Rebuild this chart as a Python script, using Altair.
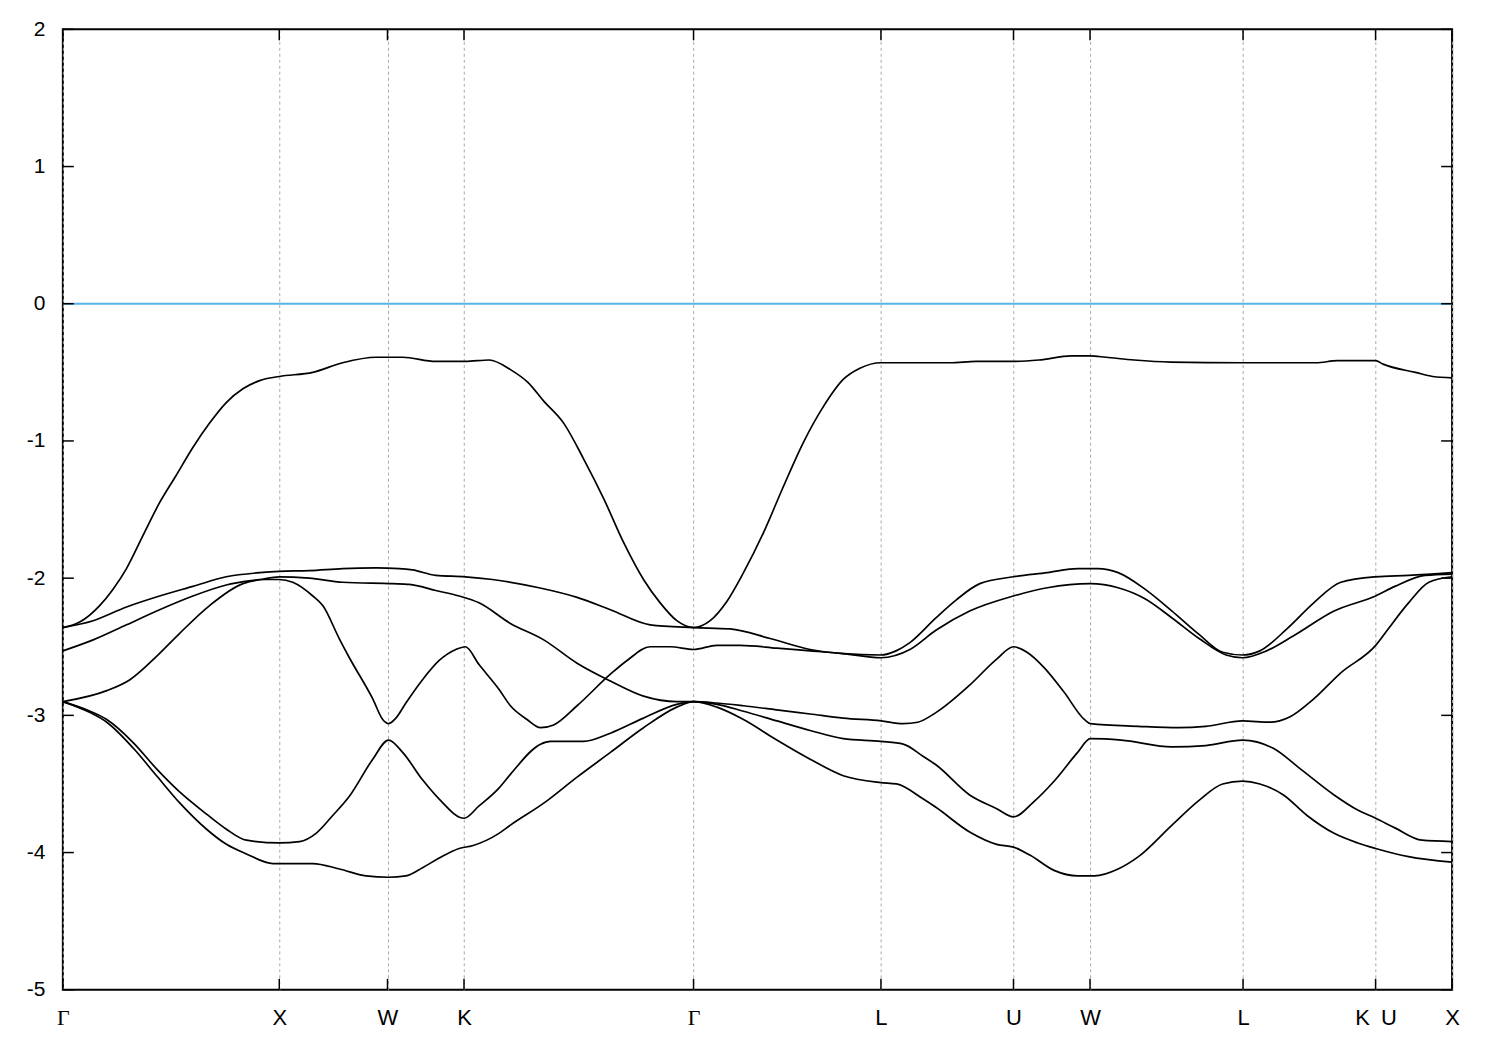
import json
import altair as alt
import pandas as pd

# high-symmetry points along the k-path
kpath_pos = [0, 1.0, 1.5, 1.8536, 2.9142, 3.7802, 4.3926, 4.7462, 5.4533, 6.0657, 6.4193]
kpath_lab = ["Γ", "X", "W", "K", "Γ", "L", "U", "W", "L", "K\u2002U", "X"]
ytick_vals = [-5, -4, -3, -2, -1, 0, 1, 2]
fermi_level = [0]

band1_k = [0, .078, .17, .232, .294, .37, .447, .524, .60, .678, .755, .832, .909, 1.0, 1.155, 1.293,
           1.447, 1.57, 1.723, 1.86, 1.97, 2.068, 2.15, 2.222, 2.314, 2.406, 2.499, 2.591, 2.683, 2.76,
           2.837, 2.914, 2.991, 3.068, 3.145, 3.237, 3.33, 3.422, 3.514, 3.607, 3.683, 3.78, 3.95, 4.10,
           4.22, 4.3926, 4.51, 4.66, 4.746, 4.82, 4.95, 5.12, 5.453, 5.79, 5.89, 6.066, 6.10, 6.25, 6.33, 6.419]
band1_e = [-2.36, -2.32, -2.20, -2.08, -1.93, -1.69, -1.45, -1.25, -1.05, -0.87, -0.72, -0.62, -0.56, -0.53,
           -0.50, -0.43, -0.39, -0.39, -0.42, -0.42, -0.41, -0.48, -0.575, -0.71, -0.87, -1.13, -1.42, -1.74,
           -2.01, -2.18, -2.31, -2.36, -2.31, -2.17, -1.96, -1.67, -1.33, -1.01, -0.75, -0.55, -0.47, -0.43,
           -0.43, -0.43, -0.42, -0.42, -0.41, -0.38, -0.38, -0.39, -0.41, -0.425, -0.43, -0.43, -0.415, -0.415,
           -0.44, -0.50, -0.53, -0.54]

band2_k = [0, 0.14, 0.294, 0.447, 0.601, 0.755, 0.909, 1.0, 1.139, 1.293, 1.447, 1.554, 1.616, 1.723, 1.86,
           1.985, 2.2, 2.376, 2.53, 2.714, 2.914, 3.083, 3.268, 3.453, 3.606, 3.78, 3.85, 3.914, 4.034, 4.127,
           4.237, 4.3926, 4.549, 4.689, 4.782, 4.876, 5.0, 5.125, 5.25, 5.359, 5.451, 5.531, 5.656, 5.78,
           5.905, 6.066, 6.218, 6.419]
band2_e = [-2.36, -2.31, -2.21, -2.13, -2.06, -1.99, -1.96, -1.95, -1.945, -1.93, -1.925, -1.93, -1.94, -1.98,
           -1.99, -2.01, -2.07, -2.14, -2.23, -2.34, -2.36, -2.37, -2.44, -2.52, -2.55, -2.56, -2.53, -2.47,
           -2.29, -2.16, -2.04, -1.99, -1.96, -1.93, -1.93, -1.96, -2.08, -2.24, -2.41, -2.54, -2.56, -2.53,
           -2.37, -2.18, -2.03, -1.99, -1.98, -1.96]

band3_k = [0, 0.14, 0.294, 0.447, 0.601, 0.755, 0.909, 1.0, 1.139, 1.293, 1.524, 1.601, 1.723, 1.831, 1.923,
           2.068, 2.222, 2.376, 2.53, 2.683, 2.837, 2.914, 3.022, 3.145, 3.299, 3.453, 3.606, 3.78, 3.883,
           3.95, 4.034, 4.19, 4.315, 4.3926, 4.455, 4.533, 4.626, 4.72, 4.748, 4.97, 5.157, 5.281, 5.451,
           5.578, 5.671, 5.78, 5.905, 6.066, 6.124, 6.218, 6.312, 6.419]
band3_e = [-2.53, -2.45, -2.34, -2.23, -2.13, -2.05, -2.01, -1.99, -2.00, -2.03, -2.04, -2.045, -2.09, -2.13,
           -2.18, -2.33, -2.45, -2.62, -2.75, -2.86, -2.90, -2.90, -2.91, -2.93, -2.96, -2.99, -3.02, -3.04,
           -3.06, -3.05, -2.98, -2.78, -2.59, -2.50, -2.54, -2.65, -2.83, -3.03, -3.06, -3.08, -3.09, -3.08,
           -3.04, -3.05, -3.01, -2.88, -2.69, -2.49, -2.37, -2.18, -2.03, -1.99]

band4_k = [0, 0.203, 0.31, 0.433, 0.541, 0.678, 0.832, 0.939, 1.0, 1.062, 1.155, 1.201, 1.277, 1.324, 1.432,
           1.478, 1.505, 1.539, 1.585, 1.662, 1.739, 1.816, 1.86, 1.923, 2.015, 2.068, 2.145, 2.207, 2.268,
           2.376, 2.53, 2.607, 2.714, 2.806, 2.914, 3.022, 3.13, 3.299, 3.453, 3.606, 3.78, 3.914, 4.034,
           4.19, 4.3926, 4.549, 4.748, 4.876, 5.0, 5.125, 5.25, 5.375, 5.451, 5.562, 5.687, 5.874, 6.066,
           6.155, 6.295, 6.419]
band4_e = [-2.90, -2.82, -2.74, -2.57, -2.40, -2.20, -2.04, -2.01, -2.01, -2.03, -2.13, -2.20, -2.44, -2.58,
           -2.88, -3.03, -3.06, -3.02, -2.91, -2.74, -2.60, -2.52, -2.50, -2.63, -2.81, -2.93, -3.03, -3.09,
           -3.07, -2.93, -2.70, -2.60, -2.50, -2.50, -2.52, -2.49, -2.49, -2.51, -2.53, -2.55, -2.58, -2.52,
           -2.38, -2.24, -2.13, -2.07, -2.04, -2.07, -2.15, -2.29, -2.44, -2.56, -2.58, -2.53, -2.42, -2.24,
           -2.13, -2.06, -1.98, -1.97]

band5_k = [0, 0.126, 0.203, 0.326, 0.433, 0.541, 0.664, 0.756, 0.848, 1.0, 1.094, 1.17, 1.247, 1.324, 1.432,
           1.505, 1.57, 1.662, 1.739, 1.854, 1.923, 2.015, 2.068, 2.207, 2.253, 2.406, 2.53, 2.683, 2.837,
           2.914, 3.022, 3.145, 3.299, 3.453, 3.606, 3.78, 3.883, 3.976, 4.034, 4.19, 4.315, 4.3926, 4.486,
           4.58, 4.689, 4.748, 4.891, 5.125, 5.281, 5.451, 5.593, 5.718, 5.874, 5.983, 6.066, 6.155, 6.28,
           6.419]
band5_e = [-2.90, -2.97, -3.03, -3.20, -3.39, -3.56, -3.72, -3.83, -3.91, -3.93, -3.92, -3.86, -3.73, -3.59,
           -3.32, -3.18, -3.27, -3.47, -3.61, -3.75, -3.66, -3.53, -3.43, -3.21, -3.19, -3.19, -3.13, -3.02,
           -2.92, -2.90, -2.92, -2.97, -3.04, -3.11, -3.17, -3.19, -3.21, -3.30, -3.36, -3.58, -3.68, -3.74,
           -3.63, -3.48, -3.27, -3.17, -3.18, -3.23, -3.22, -3.18, -3.24, -3.39, -3.58, -3.69, -3.75, -3.82,
           -3.91, -3.92]

band6_k = [0, 0.126, 0.203, 0.326, 0.433, 0.541, 0.664, 0.756, 0.848, 0.971, 1.0, 1.155, 1.278, 1.401, 1.505,
           1.585, 1.662, 1.739, 1.831, 1.892, 2.015, 2.068, 2.222, 2.376, 2.53, 2.683, 2.837, 2.914, 3.022,
           3.145, 3.299, 3.453, 3.606, 3.78, 3.852, 3.976, 4.034, 4.19, 4.315, 4.3926, 4.47, 4.58, 4.689,
           4.767, 4.876, 4.97, 5.125, 5.25, 5.359, 5.451, 5.531, 5.64, 5.749, 5.874, 5.983, 6.066, 6.218,
           6.419]
band6_e = [-2.90, -2.98, -3.05, -3.24, -3.44, -3.64, -3.83, -3.94, -4.01, -4.08, -4.08, -4.08, -4.12, -4.17,
           -4.18, -4.17, -4.11, -4.04, -3.97, -3.95, -3.86, -3.80, -3.64, -3.45, -3.27, -3.09, -2.94, -2.90,
           -2.94, -3.03, -3.18, -3.32, -3.44, -3.49, -3.50, -3.61, -3.67, -3.85, -3.94, -3.96, -4.02, -4.13,
           -4.17, -4.17, -4.12, -4.03, -3.80, -3.62, -3.50, -3.48, -3.50, -3.58, -3.73, -3.86, -3.93, -3.97,
           -4.03, -4.07]

rows = []
for name, ks, es in [("b1", band1_k, band1_e), ("b2", band2_k, band2_e), ("b3", band3_k, band3_e),
                     ("b4", band4_k, band4_e), ("b5", band5_k, band5_e), ("b6", band6_k, band6_e)]:
    for k, e in zip(ks, es):
        rows.append({"band": name, "k": k, "E": e})
df = pd.DataFrame(rows)

W, H = 1393, 963
TICK = 11

xscale = alt.Scale(domain=[0, kpath_pos[-1]], nice=False, zero=False)
yscale = alt.Scale(domain=[-5, 2], nice=False, zero=False)

label_expr = "%s[indexof(%s, datum.value)]" % (json.dumps(kpath_lab, ensure_ascii=False), json.dumps(kpath_pos))
gamma_test = " || ".join("datum.value == %s" % p for p, l in zip(kpath_pos, kpath_lab) if l == "Γ")

xaxis = alt.Axis(values=kpath_pos, labelExpr=label_expr, title=None, grid=True, gridColor="#a8a8a8",
                 gridDash=[3, 3], gridWidth=1, ticks=False, domain=False, labelFontSize=22,
                 labelFont={"condition": {"test": gamma_test, "value": "Liberation Serif"},
                            "value": "Liberation Sans"},
                 labelPadding=18, labelColor="black", labelFlush=False, labelOverlap=False, labelBound=False)
yaxis = alt.Axis(values=ytick_vals, labelExpr="'' + datum.value", title=None, grid=False, ticks=False,
                 domain=False, labelFontSize=21, labelFont="Liberation Sans", labelPadding=18,
                 labelColor="black", labelFlush=False, labelOverlap=False)

X = alt.X("k:Q", scale=xscale, axis=xaxis)
Y = alt.Y("E:Q", scale=yscale, axis=yaxis)

zero_line = alt.Chart(pd.DataFrame({"E": fermi_level})).mark_rule(
    color="#56B4E9", strokeWidth=2).encode(y=Y)

bands = alt.Chart(df).mark_line(color="black", strokeWidth=1.7, interpolate="monotone").encode(
    x=X, y=Y, detail="band:N")

ytick_df = pd.DataFrame({"E": ytick_vals})
xtick_df = pd.DataFrame({"k": kpath_pos})
tick_style = dict(color="black", strokeWidth=1.5)
left_ticks = alt.Chart(ytick_df).mark_rule(**tick_style).encode(y=Y, x=alt.value(0), x2=alt.value(TICK))
right_ticks = alt.Chart(ytick_df).mark_rule(**tick_style).encode(y=Y, x=alt.value(W - TICK), x2=alt.value(W))
bottom_ticks = alt.Chart(xtick_df).mark_rule(**tick_style).encode(x=X, y=alt.value(H), y2=alt.value(H - TICK))
top_ticks = alt.Chart(xtick_df).mark_rule(**tick_style).encode(x=X, y=alt.value(0), y2=alt.value(TICK))

chart = alt.layer(zero_line, bands, left_ticks, right_ticks, bottom_ticks, top_ticks).properties(
    width=W, height=H,
    padding={"left": 55, "top": 20, "right": 40, "bottom": 60},
    autosize=alt.AutoSizeParams(type="none"),
).configure_view(stroke="black", strokeWidth=2)

chart.save("out.html", embed_options={"renderer": "svg", "actions": False})
